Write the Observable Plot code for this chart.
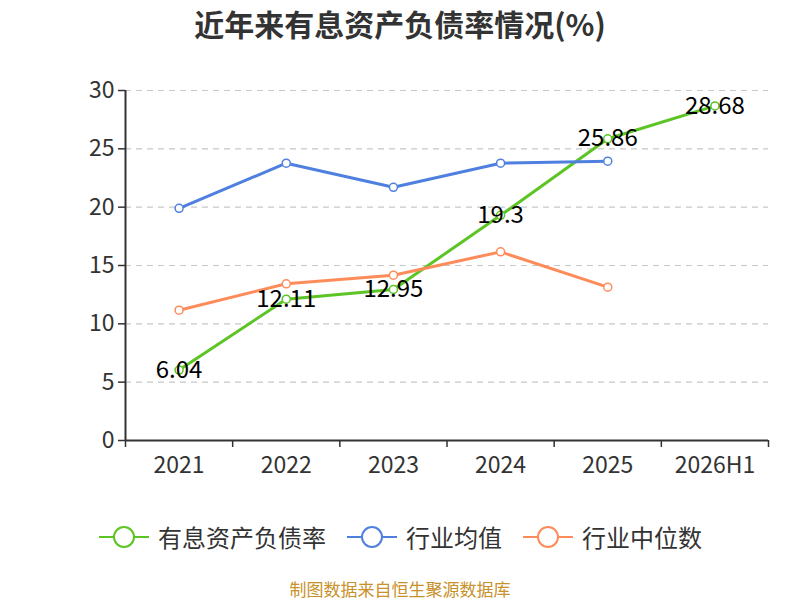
<!DOCTYPE html>
<html>
<head>
<meta charset="utf-8">
<script src="https://cdn.jsdelivr.net/npm/d3@7"></script>
<script src="https://cdn.jsdelivr.net/npm/@observablehq/plot@0.6"></script>
<style>
  body { margin: 0; background: #fff; font-family: "Noto Sans CJK SC", "Noto Sans", sans-serif; }
  #wrap { width: 800px; height: 600px; position: relative; overflow: hidden; }
  #title { position: absolute; top: 0; left: 0; width: 800px; height: 46px; line-height: 46px; text-align: center; font-size: 30px; font-weight: bold; color: #333; }
  #chart { position: absolute; top: 50px; left: 0; }
  #unit { position: absolute; left: 52px; top: 114px; width: 22px; height: 22px; color: #e00; font-size: 16px; transform: rotate(-90deg); line-height: 22px; text-align: center; }
  #legend { position: absolute; top: 519px; left: 0; width: 800px; display: flex; justify-content: center; align-items: center; font-size: 24px; color: #333; }
  .item { display: flex; align-items: center; margin: 0 10px; }
  .item svg { margin-right: 8px; }
  #caption { position: absolute; top: 579px; left: 0; width: 800px; height: 20px; line-height: 20px; text-align: center; font-size: 17px; color: #c8912a; }
</style>
</head>
<body>
<div id="wrap">
  <div id="title">近年来有息资产负债率情况(%)</div>
  <div id="unit">(%)</div>
  <div id="chart"></div>
  <div id="legend"></div>
  <div id="caption">制图数据来自恒生聚源数据库</div>
</div>
<script>
const categories = ["2021", "2022", "2023", "2024", "2025", "2026H1"];
const seriesNames = ["有息资产负债率", "行业均值", "行业中位数"];
const seriesColors = ["#5cc424", "#4f80e0", "#fd8c5a"];
const debtRatio = [6.04, 12.11, 12.95, 19.3, 25.86, 28.68];
const industryMean = [19.9, 23.77, 21.7, 23.77, 23.94];
const industryMedian = [11.17, 13.43, 14.17, 16.17, 13.14];
const yTicks = [0, 5, 10, 15, 20, 25, 30];

const seriesValues = [debtRatio, industryMean, industryMedian];
const data = [];
seriesValues.forEach((vals, s) => vals.forEach((v, i) => data.push({series: seriesNames[s], x: i + 0.5, y: v, cat: categories[i]})));
const mainData = data.filter(d => d.series === seriesNames[0]);

const boundaries = d3.range(0, categories.length + 1);
const centers = categories.map((c, i) => i + 0.5);

const plot = Plot.plot({
  width: 800,
  height: 430,
  marginLeft: 125,
  marginRight: 32,
  marginTop: 40,
  marginBottom: 40,
  style: { fontFamily: '"Noto Sans CJK SC", "Noto Sans", sans-serif', background: "#fff", overflow: "visible" },
  x: { domain: [0, categories.length], axis: null },
  y: { domain: [0, 30], axis: null },
  color: { domain: seriesNames, range: seriesColors },
  marks: [
    Plot.gridY(yTicks.filter(t => t > 0), { stroke: "#c8c8c8", strokeOpacity: 1, strokeDasharray: "6,5", strokeWidth: 1.2 }),
    Plot.axisY(yTicks, { ticks: yTicks, tickSize: 7, tickPadding: 4, fontSize: 23, color: "#333", stroke: "#333", strokeWidth: 1.5, label: null }),
    Plot.axisX(boundaries, { ticks: boundaries, tickSize: 7, tickFormat: () => "", stroke: "#333", strokeWidth: 1.5, label: null }),
    Plot.axisX(centers, { ticks: centers, tickSize: 0, tickPadding: 16, tickFormat: v => categories[Math.round(v - 0.5)], fontSize: 23, color: "#333", label: null }),
    Plot.ruleX([0], { stroke: "#333", strokeWidth: 2 }),
    Plot.ruleY([0], { stroke: "#333", strokeWidth: 2 }),
    Plot.line(data, { x: "x", y: "y", z: "series", stroke: "series", strokeWidth: 3 }),
    Plot.dot(data, { x: "x", y: "y", stroke: "series", fill: "#fff", r: 4, strokeWidth: 1.5 }),
    Plot.text(mainData, { x: "x", y: "y", text: d => String(d.y), fontSize: 24, fill: "#000", dy: 0 })
  ]
});
document.getElementById("chart").appendChild(plot);

const legend = document.getElementById("legend");
seriesNames.forEach((name, i) => {
  const item = document.createElement("div");
  item.className = "item";
  item.innerHTML = `<svg width="52" height="26"><line x1="1" y1="13" x2="51" y2="13" stroke="${seriesColors[i]}" stroke-width="2"/><circle cx="26" cy="13" r="10" fill="#fff" stroke="${seriesColors[i]}" stroke-width="2"/></svg><span>${name}</span>`;
  legend.appendChild(item);
});
</script>
</body>
</html>
